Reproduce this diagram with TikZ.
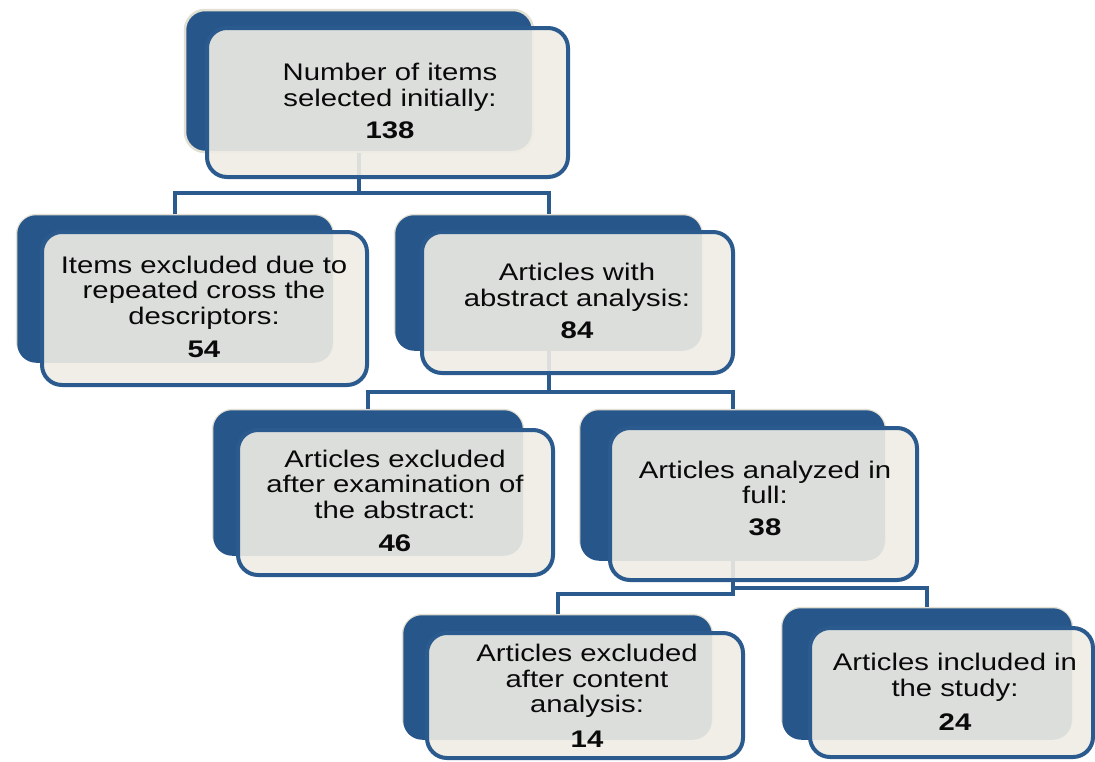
\documentclass[tikz,border=0pt]{standalone}
\usepackage{fontspec}
\setmainfont{Liberation Sans}[FakeStretch=1.22]
\definecolor{backblue}{HTML}{27568A}
\definecolor{lineblue}{HTML}{2A5A8E}
\definecolor{beige}{HTML}{EFEDE4}
\definecolor{glow}{HTML}{E2DFD3}
\definecolor{ink}{HTML}{0A0A0A}
\begin{document}
\begin{tikzpicture}[x=1pt,y=-1pt,
  backbox/.style={draw=glow,line width=2.5pt,fill=backblue,rounded corners=20pt,inner sep=0pt},
  frontbox/.style={draw=lineblue,line width=4pt,fill=beige,fill opacity=0.9,draw opacity=1,rounded corners=20pt,inner sep=0pt},
  txt/.style={align=center,text=ink,font=\fontsize{24}{25.5}\selectfont,inner sep=0pt},
  conn/.style={draw=lineblue,line width=4pt}]
\useasboundingbox (0,0) rectangle (1095,761);
\fill[white] (0,0) rectangle (1095,761);
% back boxes
\node[backbox,minimum width=348pt,minimum height=142pt] (b1) at (359,81) {};
\node[backbox,minimum width=316pt,minimum height=145pt] (b2) at (175,287.5) {};
\node[backbox,minimum width=307pt,minimum height=133pt] (b3) at (548.5,281.5) {};
\node[backbox,minimum width=310pt,minimum height=143pt] (b4) at (368,481.5) {};
\node[backbox,minimum width=305pt,minimum height=148pt] (b5) at (732.5,484) {};
\node[backbox,minimum width=309pt,minimum height=122pt] (b6) at (557.5,676) {};
\node[backbox,minimum width=290pt,minimum height=129pt] (b7) at (927,672.5) {};
% connectors
\draw[conn] (b1.south) -- (b1.south |- 0,193) -| (b2.north);
\draw[conn] (b1.south) -- (b1.south |- 0,193) -| (b3.north);
\draw[conn] (b3.south) -- (b3.south |- 0,392) -| (b4.north);
\draw[conn] (b3.south) -- (b3.south |- 0,392) -| (b5.north);
\draw[conn] (b5.south) -- (b5.south |- 0,594) -| (b6.north);
\draw[conn] (b5.south) -- (b5.south |- 0,588) -| (b7.north);
% redraw back boxes over connector ends
\foreach \n in {b2,b3,b4,b5,b6,b7} {\fill[backblue,rounded corners=19pt] (\n.north west) ++(1.5,1.5) rectangle ([xshift=-1.5pt,yshift=-1.5pt]\n.south east);}
% front boxes
\node[frontbox,minimum width=361pt,minimum height=149pt] (f1) at (387.5,102.5) {};
\node[frontbox,minimum width=325pt,minimum height=153pt] (f2) at (204.5,308.5) {};
\node[frontbox,minimum width=311pt,minimum height=141pt] (f3) at (577.5,302.5) {};
\node[frontbox,minimum width=315pt,minimum height=145pt] (f4) at (395.5,502.5) {};
\node[frontbox,minimum width=307pt,minimum height=152pt] (f5) at (763.5,504) {};
\node[frontbox,minimum width=316pt,minimum height=125pt] (f6) at (585,695.5) {};
\node[frontbox,minimum width=283pt,minimum height=129pt] (f7) at (951.5,692.5) {};
% texts
\node[txt] (t1) at (390,101) {Number of items\\selected initially:\\[7pt]\textbf{138}};
\node[txt] (t2) at (204,307) {Items excluded due to\\repeated cross the\\descriptors:\\[8pt]\textbf{54}};
\node[txt] (t3) at (577,301) {Articles with\\abstract analysis:\\[7pt]\textbf{84}};
\node[txt] (t4) at (395,501) {Articles excluded\\after examination of\\the abstract:\\[8pt]\textbf{46}};
\node[txt] (t5) at (765,498) {Articles analyzed in\\full:\\[6pt]\textbf{38}};
\node[txt] (t6) at (587,696) {Articles excluded\\after content\\analysis:\\[9pt]\textbf{14}};
\node[txt] (t7) at (955,692) {Articles included in\\the study:\\[9pt]\textbf{24}};
\end{tikzpicture}
\end{document}
